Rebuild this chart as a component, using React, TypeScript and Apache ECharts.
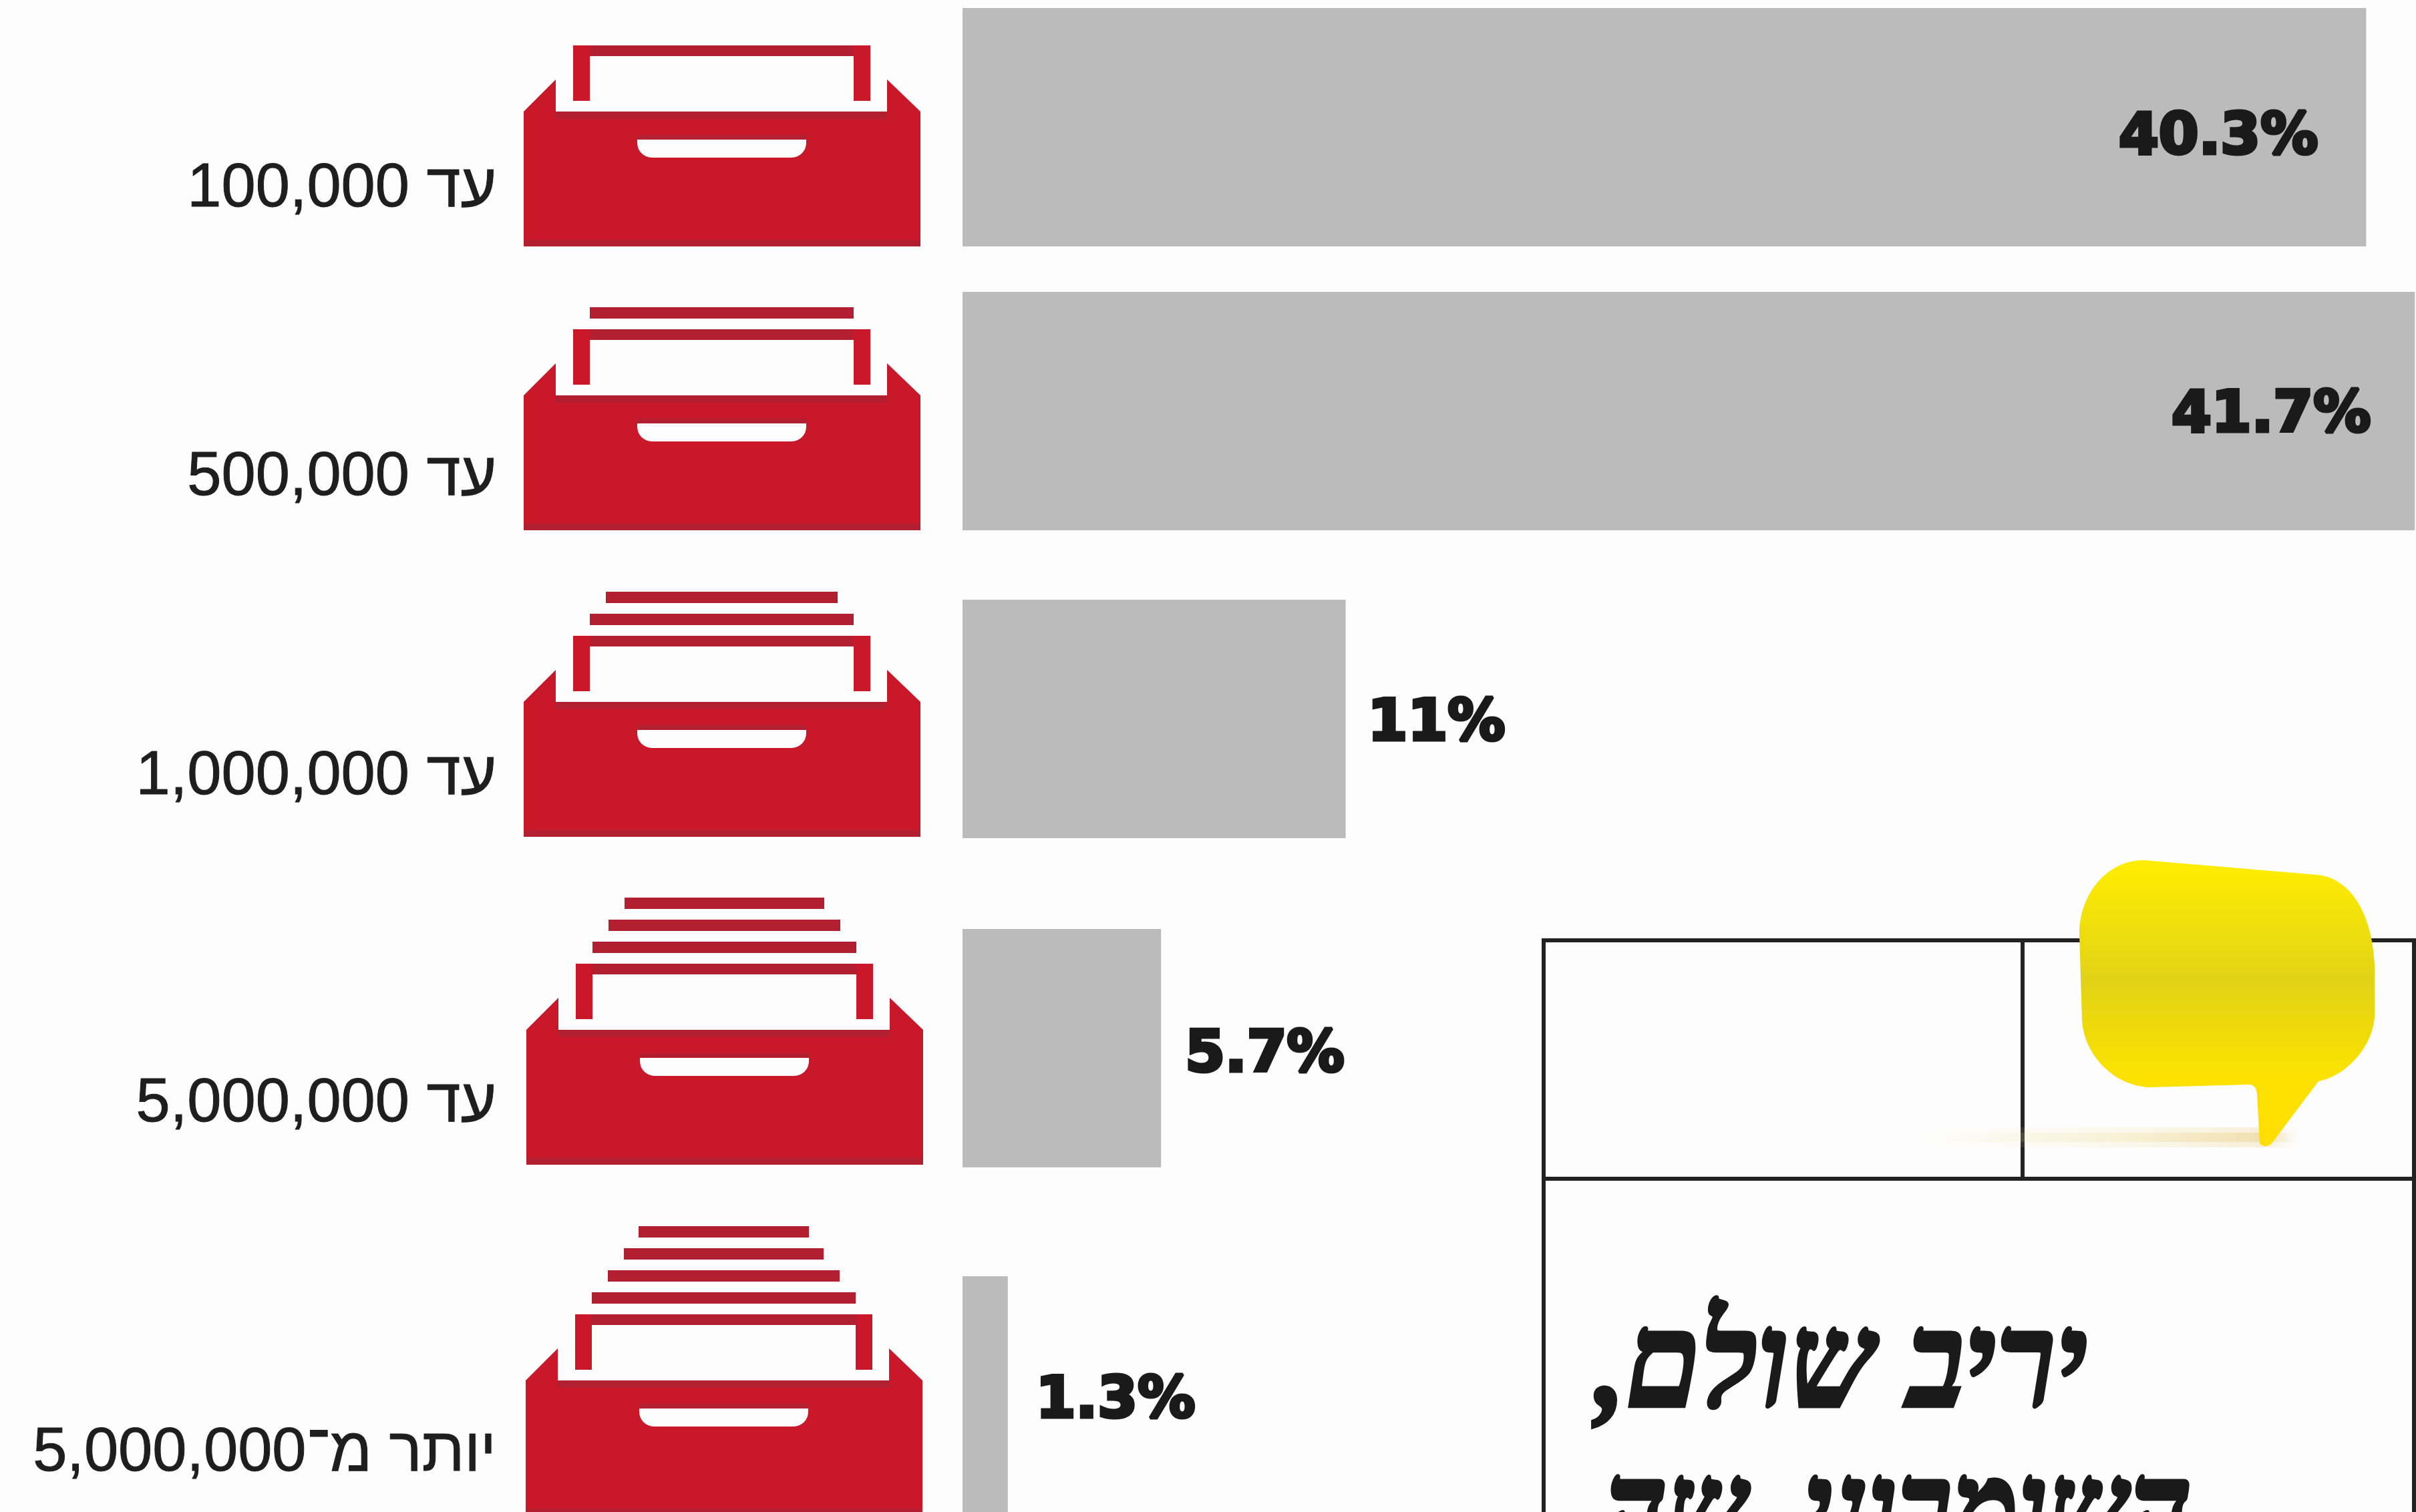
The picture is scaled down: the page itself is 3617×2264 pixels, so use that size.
import React, { useEffect, useRef } from "react";
import * as echarts from "echarts";

// Share of accounts by balance bracket
const brackets = [
  "\u202Bעד 100,000\u202C",
  "\u202Bעד 500,000\u202C",
  "\u202Bעד 1,000,000\u202C",
  "\u202Bעד 5,000,000\u202C",
  "\u202Bיותר מ־5,000,000\u202C",
];
const shares = [40.3, 41.7, 11, 5.7, 1.3];
const shareLabels = ["40.3%", "41.7%", "11%", "5.7%", "1.3%"];
const bylineLines = ["יריב שולם,", "השומרוני, שה"];

// Layout of each row, in page pixels
const PAGE_W = 3617;
const PAGE_H = 2264;
const BAR_LEFT = 1441;
const BAR_AXIS_W = 2190;
const BAR_AXIS_MAX = 42;
const BAR_H = 357;
const rowTops = [12, 437, 898, 1391, 1911];
const labelShifts = [86, 93, 80, 77, 80];
const valueLabelGaps = [72, 66, 33, 36, 42];
const valueLabelShifts = [9, 0, 1, 4, 2];
const labelRight = 743;

// Position of each drawer icon: horizontal shift and bottom edge
const drawerShiftX = [0, 0, 0, 4, 3];
const drawerBottom = [369, 794, 1253, 1744, 2269];

// Byline placement: right edge, text bottom and horizontal squeeze of each line
const bylineRight = [3126, 3282];
const bylineBottom = [2139, 2360];
const bylineSqueeze = [0.91, 0.84];

const RED = "#C8182A";
const RED_DARK = "#B11F30";
const BG = "#FDFDFD";

function drawerIcon(i: number) {
  const dx = drawerShiftX[i];
  const dy = drawerBottom[i] - 369;
  const at = (x: number, y: number) => [x + dx, y + dy];
  const rect = (x: number, y: number, width: number, height: number, fill: string) => ({
    type: "rect",
    silent: true,
    shape: { x: x + dx, y: y + dy, width, height },
    style: { fill },
  });
  const parts: any[] = [
    {
      type: "polygon",
      silent: true,
      shape: {
        points: [
          at(784, 167), at(832, 119), at(832, 167), at(1328, 167),
          at(1328, 119), at(1378, 167), at(1378, 369), at(784, 369),
        ],
      },
      style: { fill: RED },
    },
    rect(832, 167, 496, 11, RED_DARK),
    rect(784, 359, 594, 10, RED_DARK),
    rect(954, 202, 253, 7, RED_DARK),
    {
      type: "rect",
      silent: true,
      shape: { x: 954 + dx, y: 209 + dy, width: 253, height: 27, r: [0, 0, 22, 22] },
      style: { fill: BG },
    },
    rect(858, 68, 445, 16, RED_DARK),
    rect(858, 68, 25, 83, RED),
    rect(1278, 68, 25, 83, RED),
  ];
  // The fuller brackets show more sheets stacked behind the front one
  const insets = [25, 49, 73, 95];
  for (let s = 0; s < i; s++) {
    const inset = insets[s];
    parts.push(rect(858 + inset, 68 - 33 * (s + 1), 445 - 2 * inset, 17, RED_DARK));
  }
  return { type: "group", silent: true, children: parts };
}

const bubblePath =
  "M3209 1288 L3470 1310 C3525 1316 3552 1378 3555 1444 L3555 1522 C3552 1570 3510 1612 3471 1619 " +
  "L3401 1712 C3395 1718 3386 1717 3383 1712 L3379 1638 C3378 1628 3374 1624 3366 1624 L3218 1628 " +
  "C3165 1626 3120 1580 3117 1528 L3113 1399 C3113 1338 3155 1288 3209 1288 Z";
echarts.graphic.registerShape("speechBubble", echarts.graphic.extendPath(bubblePath, {}));

// Soft floor shadow that trails away to the left of the bubble's tail
function shadowStrip(y: number, height: number, alpha: number) {
  return {
    type: "rect",
    silent: true,
    shape: { x: 2880, y, width: 560, height },
    style: {
      fill: {
        type: "linear",
        x: 0,
        y: 0,
        x2: 1,
        y2: 0,
        colorStops: [
          { offset: 0, color: "rgba(240,225,160,0)" },
          { offset: 0.5, color: `rgba(240,225,160,${alpha * 0.6})` },
          { offset: 0.9, color: `rgba(235,205,130,${alpha})` },
          { offset: 1, color: "rgba(235,205,130,0)" },
        ],
      },
    },
  };
}

export default function App() {
  const ref = useRef<HTMLDivElement>(null);

  useEffect(() => {
    document.body.style.margin = "0";
    document.body.style.overflow = "hidden";
    const chart = echarts.init(ref.current!, undefined, { renderer: "svg" });

    const grids = rowTops.map((top) => ({
      left: BAR_LEFT,
      top,
      width: BAR_AXIS_W,
      height: BAR_H,
      outerBoundsMode: "none",
    }));
    const xAxes = rowTops.map((_, i) => ({
      type: "value",
      gridIndex: i,
      min: 0,
      max: BAR_AXIS_MAX,
      show: false,
    }));
    const yAxes = rowTops.map((_, i) => ({
      type: "category",
      gridIndex: i,
      data: [brackets[i]],
      axisLine: { show: false },
      axisTick: { show: false },
      axisLabel: {
        margin: BAR_LEFT - labelRight,
        fontFamily: "Liberation Sans",
        fontSize: 92,
        color: "#1E1E1E",
        textBorderColor: "#1E1E1E",
        textBorderWidth: 1,
        align: "right",
        verticalAlign: "top",
        lineHeight: labelShifts[i] * 2,
      },
    }));
    const series = rowTops.map((_, i) => ({
      type: "bar",
      xAxisIndex: i,
      yAxisIndex: i,
      barWidth: "100%",
      silent: true,
      itemStyle: { color: "#BBBBBB" },
      label: {
        show: true,
        position: i < 2 ? "insideRight" : "right",
        distance: valueLabelGaps[i],
        offset: [0, valueLabelShifts[i]],
        formatter: () => shareLabels[i],
        fontFamily: "DejaVu Sans",
        fontWeight: "bold",
        fontSize: 86,
        color: "#1A1A1A",
        textBorderColor: "#1A1A1A",
        textBorderWidth: 5,
      },
      data: [shares[i]],
    }));

    const frameLine = { stroke: "#222222", lineWidth: 6 };
    const line = (x1: number, y1: number, x2: number, y2: number) => ({
      type: "line",
      silent: true,
      shape: { x1, y1, x2, y2 },
      style: frameLine,
    });

    chart.setOption({
      animation: false,
      backgroundColor: BG,
      grid: grids,
      xAxis: xAxes,
      yAxis: yAxes,
      series,
      graphic: {
        elements: [
          ...rowTops.map((_, i) => drawerIcon(i)),
          line(2311, 1408, 3614, 1408),
          line(2311, 1765, 3614, 1765),
          line(2311, 1405, 2311, PAGE_H),
          line(3614, 1405, 3614, PAGE_H),
          line(3028, 1408, 3028, 1765),
          shadowStrip(1688, 30, 0.3),
          shadowStrip(1696, 14, 0.45),
          {
            type: "speechBubble",
            silent: true,
            style: {
              fill: {
                type: "linear",
                x: 0,
                y: 0,
                x2: 0,
                y2: 1,
                colorStops: [
                  { offset: 0, color: "#FFEE00" },
                  { offset: 0.42, color: "#E2D216" },
                  { offset: 0.75, color: "#FBE200" },
                  { offset: 1, color: "#FFDD00" },
                ],
              },
            },
          },
          ...bylineLines.map((text, i) => ({
            type: "text",
            silent: true,
            x: bylineRight[i],
            y: bylineBottom[i],
            scaleX: bylineSqueeze[i],
            style: {
              text: "\u202B" + text + "\u202C",
              fontFamily: "Liberation Serif",
              fontWeight: "bold",
              fontStyle: "italic",
              fontSize: 200,
              fill: "#1A1A1A",
              stroke: "#1A1A1A",
              lineWidth: 5,
              align: "right",
              verticalAlign: "bottom",
            },
          })),
        ],
      },
    });
    return () => chart.dispose();
  }, []);

  return (
    <div
      ref={ref}
      style={{ position: "absolute", left: 0, top: 0, width: PAGE_W, height: PAGE_H }}
    />
  );
}
